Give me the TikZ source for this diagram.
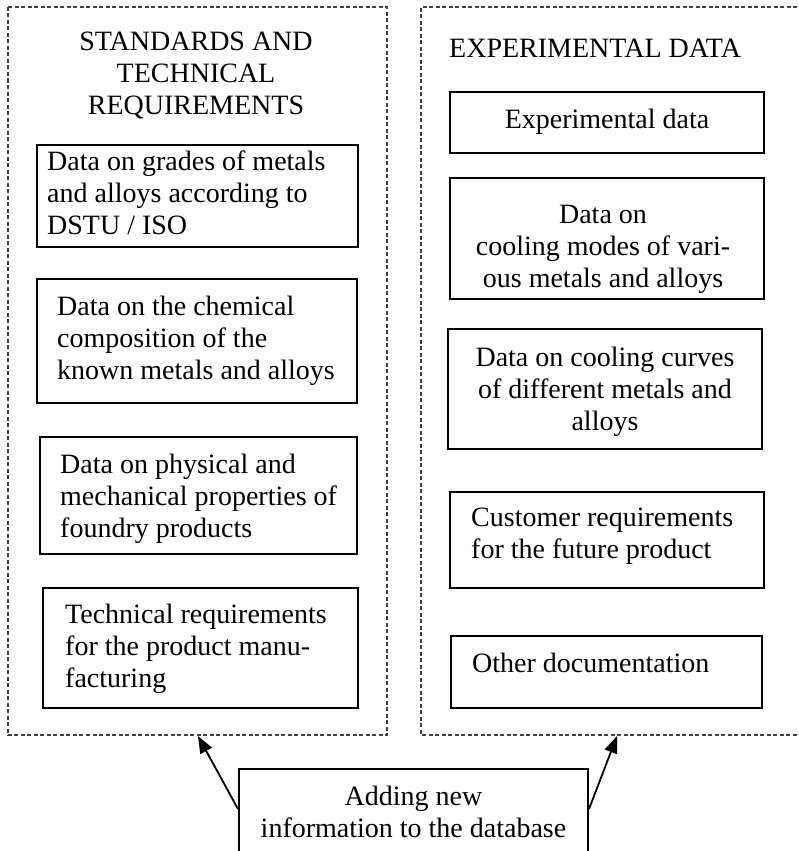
\documentclass[tikz,border=0pt]{standalone}
\usepackage{fontspec}
\setmainfont{Liberation Serif}
\usetikzlibrary{arrows.meta,fit}

\begin{document}
\begin{tikzpicture}[x=1pt,y=-1pt,
  panel/.style={draw=black!75, line width=1.1pt, dash pattern=on 4pt off 2.5pt},
  box/.style={draw, line width=2pt, inner sep=0pt},
  ltxt/.style={font=\fontsize{28}{32}\selectfont, inner sep=0pt, align=left, anchor=base west},
  ctxt/.style={font=\fontsize{28}{32}\selectfont, inner sep=0pt, align=center, anchor=base},
  link/.style={line width=1.8pt, -{Triangle[length=17pt,width=13pt]}}]

\useasboundingbox (0,0) rectangle (798,851);
\clip (0,0) rectangle (798,851);

% dashed group frames
\draw[panel] (8,7) rectangle (387,735);
\draw[panel] (810,7) -- (421,7) -- (421,735) -- (810,735);

% group titles (anchored at the baseline of the last line)
\node[ctxt] (ltitle) at (196,114) {STANDARDS AND\\TECHNICAL\\REQUIREMENTS};
\node[ltxt] (rtitle) at (449,58) {EXPERIMENTAL DATA};

% left column
\node[box, fit={(37,145) (358,247)}] (l1) {};
\node[ltxt] (l1t) at (47,234) {Data on grades of metals\\and alloys according to\\DSTU / ISO};
\node[box, fit={(37,279) (357,403)}] (l2) {};
\node[ltxt] (l2t) at (57,379) {Data on the chemical\\composition of the\\known metals and alloys};
\node[box, fit={(40,437) (357,554)}] (l3) {};
\node[ltxt] (l3t) at (60,537) {Data on physical and\\mechanical properties of\\foundry products};
\node[box, fit={(43,588) (358,708)}] (l4) {};
\node[ltxt] (l4t) at (65,687) {Technical requirements\\for the product manu-\\facturing};

% right column
\node[box, fit={(450,92) (764,153)}] (r1) {};
\node[ctxt] (r1t) at (607,128) {Experimental data};
\node[box, fit={(450,178) (764,299)}] (r2) {};
\node[ctxt] (r2t) at (603,287) {Data on\\cooling modes of vari-\\ous metals and alloys};
\node[box, fit={(448,329) (762,449)}] (r3) {};
\node[ctxt] (r3t) at (605,430) {Data on cooling curves\\of different metals and\\alloys};
\node[box, fit={(450,492) (764,588)}] (r4) {};
\node[ltxt] (r4t) at (471,558) {Customer requirements\\for the future product};
\node[box, fit={(451,636) (762,708)}] (r5) {};
\node[ltxt] (r5t) at (472,672) {Other documentation};

% database update box
\node[box, fit={(239,769) (588,860)}] (add) {};
\node[ctxt] (addt) at (413.5,837) {Adding new\\information to the database};

\coordinate (tipL) at (198,736);
\coordinate (tipR) at (617,736);
\draw[link] ([yshift=5.5pt]add.west) -- (tipL);
\draw[link] ([yshift=5.5pt]add.east) -- (tipR);
\end{tikzpicture}
\end{document}
